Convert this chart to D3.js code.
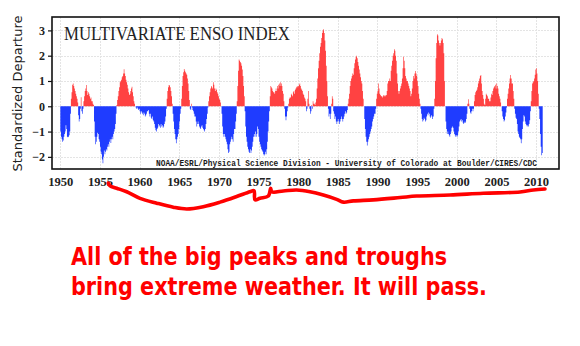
<!DOCTYPE html>
<html>
<head>
<meta charset="utf-8">
<script src="https://cdn.jsdelivr.net/npm/d3@7"></script>
<style>
  html, body { margin: 0; padding: 0; background: #fff; }
  svg { display: block; }
</style>
</head>
<body>
<svg id="chart" width="580" height="346"></svg>
<script>
// ---- Data: monthly MEI values, January 1950 onward ----
const mei1950s = [
  -1.0,-1.2,-1.3,-1.4,-1.35,-1.2,-1.1,-1.0,-0.75,-0.9,-1.2,-1.22,
  -1.2,-1.15,-1.0,-0.3,0.3,0.55,0.85,0.9,0.8,0.7,0.6,0.5,
  0.4,0.3,0.15,-0.35,-0.6,-0.5,-0.1,0.36,-0.2,-0.3,-0.1,0.2,
  0.4,0.6,0.7,0.84,0.6,0.45,0.55,0.5,0.4,0.3,0.35,0.2,
  0.2,0.1,0.05,-0.6,-1.2,-1.5,-1.4,-1.2,-1.05,-1.1,-1.3,-1.4,
  -1.6,-1.8,-1.9,-2.1,-2.25,-2.0,-1.75,-1.9,-1.8,-1.7,-1.75,-1.6,
  -1.5,-1.6,-1.4,-1.3,-1.45,-1.3,-1.2,-1.3,-1.1,-1.0,-0.9,-0.7,
  -0.3,0.05,0.25,0.4,0.6,0.75,0.95,1.0,1.05,1.15,1.2,1.3,
  1.46,1.3,1.2,1.05,0.95,0.85,0.7,0.55,0.45,0.5,0.6,0.7,
  0.77,0.55,0.4,0.2,0.1,0.0,-0.05,-0.1,-0.05,-0.1,-0.15,-0.1
];
const mei1960s = [
  -0.2,-0.3,-0.2,-0.25,-0.3,-0.35,-0.25,-0.3,-0.4,-0.35,-0.3,-0.2,
  -0.2,-0.15,-0.3,-0.4,-0.3,-0.45,-0.5,-0.4,-0.55,-0.6,-0.7,-0.85,
  -0.95,-1.0,-0.9,-0.85,-0.7,-0.8,-0.75,-0.85,-0.7,-0.8,-0.75,-0.85,
  -0.8,-0.7,-0.6,-0.4,-0.1,0.3,0.6,0.75,0.84,0.82,0.75,0.6,
  0.4,0.1,-0.3,-0.6,-0.9,-1.1,-1.3,-1.46,-1.3,-1.2,-1.1,-0.9,
  -0.6,-0.3,-0.1,0.3,0.8,1.2,1.35,1.47,1.4,1.35,1.3,1.25,
  1.1,0.9,0.6,0.25,-0.1,-0.15,0.1,-0.05,-0.15,-0.2,-0.3,-0.4,
  -0.4,-0.6,-0.8,-0.7,-0.6,-0.7,-0.8,-0.85,-0.9,-0.8,-0.75,-0.85,
  -0.9,-0.95,-1.0,-0.9,-0.7,-0.5,-0.3,-0.05,0.2,0.4,0.55,0.7,
  0.8,0.75,0.7,0.95,0.85,0.7,0.6,0.7,0.65,0.55,0.5,0.4
];
const mei1970s = [
  0.3,0.25,0.15,0.0,-0.3,-0.8,-1.1,-1.2,-1.1,-1.2,-1.3,-1.4,
  -1.5,-1.7,-1.85,-1.8,-1.5,-1.4,-1.3,-1.2,-1.3,-1.4,-1.1,-0.9,
  -0.9,-0.6,-0.3,0.2,0.8,1.4,1.85,1.8,1.75,1.7,1.6,1.45,
  1.2,0.8,0.4,-0.2,-0.8,-1.2,-1.4,-1.6,-1.7,-1.8,-1.85,-1.7,
  -1.85,-1.75,-1.6,-1.4,-1.2,-1.1,-1.2,-1.0,-1.2,-1.1,-0.8,-0.9,
  -1.2,-1.4,-1.5,-1.6,-1.7,-1.75,-1.8,-1.9,-1.95,-1.9,-1.8,-1.9,
  -1.7,-1.4,-1.0,-0.6,-0.2,0.4,0.8,0.75,0.7,0.6,0.55,0.55,
  0.5,0.6,0.7,0.6,0.8,0.7,0.85,0.9,0.8,0.95,0.9,0.8,
  0.6,0.5,0.2,-0.1,-0.4,-0.55,-0.4,-0.2,-0.05,0.1,0.3,0.35,
  0.35,0.5,0.45,0.4,0.55,0.6,0.5,0.65,0.7,0.75,0.8,0.75
];
const mei1980s = [
  0.8,0.85,0.9,0.8,0.7,0.65,0.6,0.5,0.45,0.35,0.3,0.2,
  -0.2,-0.1,0.3,0.6,0.1,-0.1,-0.3,-0.2,0.05,-0.1,0.2,0.1,
  0.1,0.05,0.15,0.3,0.7,1.1,1.5,1.8,2.1,2.35,2.5,2.7,
  2.9,3.0,3.05,2.9,2.6,2.2,1.6,1.0,0.4,-0.1,-0.4,-0.3,
  -0.5,-0.3,0.1,0.4,0.3,-0.2,-0.3,-0.5,-0.4,-0.6,-0.7,-0.6,
  -0.5,-0.6,-0.7,-0.6,-0.5,-0.4,-0.5,-0.6,-0.5,-0.4,-0.3,-0.2,
  -0.3,-0.25,-0.15,0.1,0.3,0.5,0.8,1.0,1.1,1.2,1.3,1.25,
  1.5,1.7,1.85,1.95,2.0,1.9,1.75,1.6,1.45,1.3,1.15,1.0,
  0.9,0.6,0.3,0.0,-0.5,-0.9,-1.2,-1.4,-1.55,-1.4,-1.3,-1.2,
  -1.1,-1.0,-0.9,-0.8,-0.6,-0.5,-0.4,-0.3,-0.3,-0.1,0.3,0.5
];
const mei1990s = [
  0.6,0.9,0.7,0.5,0.45,0.4,0.4,0.35,0.4,0.45,0.4,0.45,
  0.4,0.45,0.6,0.9,1.0,1.0,1.1,1.0,1.4,1.6,1.8,2.0,
  2.1,2.25,2.2,2.0,1.8,1.3,0.9,0.6,0.5,0.6,0.7,0.8,
  0.9,1.1,1.5,1.96,1.8,1.5,1.2,1.1,1.0,1.0,0.9,0.8,
  0.7,0.6,0.4,0.5,0.7,1.0,1.2,1.1,1.3,1.39,1.3,1.2,
  1.0,0.8,0.5,0.3,0.1,-0.1,-0.3,-0.5,-0.6,-0.55,-0.45,-0.5,
  -0.6,-0.55,-0.4,-0.3,-0.35,-0.25,-0.3,-0.4,-0.45,-0.35,-0.4,-0.5,
  -0.4,-0.1,0.3,1.0,1.9,2.5,2.85,2.8,2.6,2.5,2.4,2.5,
  2.6,2.7,2.65,2.5,2.1,1.0,0.0,-0.6,-0.9,-1.1,-1.0,-1.1,
  -1.15,-1.2,-1.1,-1.0,-0.85,-0.8,-0.85,-1.0,-1.1,-1.15,-1.2,-1.15
];
const mei2000s = [
  -1.2,-1.15,-1.0,-0.8,-0.6,-0.55,-0.5,-0.6,-0.55,-0.65,-0.7,-0.65,
  -0.6,-0.65,-0.5,-0.3,0.1,0.28,0.1,-0.1,-0.25,-0.3,-0.2,-0.1,
  -0.2,-0.1,0.2,0.45,0.55,0.6,0.65,0.75,0.9,1.0,1.1,1.2,
  1.24,0.9,0.6,0.45,0.3,0.1,0.05,0.3,0.5,0.45,0.4,0.3,
  0.3,0.2,0.2,0.35,0.5,0.45,0.6,0.7,0.75,0.8,0.85,0.7,
  0.9,0.8,0.7,0.5,0.4,0.3,0.15,0.0,-0.2,-0.4,-0.5,-0.6,
  -0.55,-0.4,-0.25,-0.05,0.3,0.5,0.7,0.9,1.1,1.24,1.1,0.9,
  0.9,0.6,0.3,-0.1,-0.3,-0.45,-0.5,-0.7,-1.0,-1.1,-1.2,-1.25,
  -1.3,-1.46,-1.3,-0.9,-0.6,-0.35,-0.4,-0.6,-0.7,-0.75,-0.8,-0.75,
  -0.8,-0.7,-0.55,-0.2,0.2,0.6,0.9,0.95,1.0,1.1,1.25,1.45
];
const mei2010 = [1.5,1.3,1.0,0.5,-0.1,-0.5,-1.1,-1.6,-1.94,-1.85];

const startYear = 1950;
const xTicks = [1950,1955,1960,1965,1970,1975,1980,1985,1990,1995,2000,2005,2010];
const yTicks = [-2,-1,0,1,2,3];

const titleText = "MULTIVARIATE ENSO INDEX";
const creditText = "NOAA/ESRL/Physical Science Division - University of Colorado at Boulder/CIRES/CDC";
const yAxisTitle = "Standardized Departure";
const noteLines = ["All of the big peaks and troughs", "bring extreme weather. It will pass."];

// hand-drawn red underline, in (year, index) units
const scribble = [
  [1956.05,-3.04],[1956.27,-3.15],[1957.11,-3.24],[1958.37,-3.38],[1960.05,-3.64],
  [1962.16,-3.83],[1964.25,-3.99],[1965.94,-4.06],[1968.03,-3.97],[1970.14,-3.79],
  [1972.24,-3.57],[1973.92,-3.38],[1974.43,-3.34],[1974.55,-3.70],[1975.18,-3.64],
  [1976.23,-3.55],[1976.53,-3.24],[1976.66,-3.38],[1978.12,-3.35],[1979.81,-3.31],
  [1981.49,-3.38],[1983.17,-3.51],[1984.85,-3.68],[1985.69,-3.79],[1986.95,-3.74],
  [1989.47,-3.70],[1992.84,-3.61],[1994.94,-3.55],[1999.14,-3.51],[2003.34,-3.44],
  [2007.98,-3.39],[2009.65,-3.31],[2011.12,-3.27]
];

// ---- Build ----
const values = [].concat(mei1950s, mei1960s, mei1970s, mei1980s, mei1990s, mei2000s, mei2010);
const series = values.map((v, i) => ({ t: startYear + i / 12, v }));
series.push({ t: startYear + values.length / 12, v: values[values.length - 1] });

const svg = d3.select("#chart");
const pL = 52, pR = 559, pT = 17, pB = 169;

const x = d3.scaleLinear().domain([1948.95, 2012.89]).range([pL, pR]);
const y = d3.scaleLinear().domain([-2.48, 3.53]).range([pB, pT]);

svg.append("rect").attr("width", 580).attr("height", 346).attr("fill", "#fff");

// grid
const grid = svg.append("g").attr("stroke", "#e4e4e4").attr("stroke-width", 1).attr("stroke-dasharray", "2,1");
grid.selectAll("line.v").data(xTicks).join("line").attr("class", "v")
  .attr("x1", d => Math.round(x(d)) + 0.5).attr("x2", d => Math.round(x(d)) + 0.5)
  .attr("y1", pT).attr("y2", pB);
grid.selectAll("line.h").data(yTicks).join("line").attr("class", "h")
  .attr("y1", d => Math.round(y(d)) + 0.5).attr("y2", d => Math.round(y(d)) + 0.5)
  .attr("x1", pL).attr("x2", pR);

// areas
const posArea = d3.area().curve(d3.curveStepAfter)
  .x(d => x(d.t)).y0(y(0)).y1(d => y(Math.max(0, d.v)));
const negArea = d3.area().curve(d3.curveStepAfter)
  .x(d => x(d.t)).y0(y(0)).y1(d => y(Math.min(0, d.v)));
svg.append("path").datum(series).attr("d", posArea).attr("fill", "#ff4242");
svg.append("path").datum(series).attr("d", negArea).attr("fill", "#1f3cff");

// frame
svg.append("rect").attr("x", pL).attr("y", pT).attr("width", pR - pL).attr("height", pB - pT)
  .attr("fill", "none").attr("stroke", "#111").attr("stroke-width", 1.6);

// title
svg.append("text").attr("x", 64).attr("y", 39.5)
  .attr("font-family", "'Liberation Serif', 'DejaVu Serif', serif").attr("font-size", 18)
  .attr("textLength", 226).attr("lengthAdjust", "spacingAndGlyphs")
  .attr("fill", "#222").text(titleText);

// credit
svg.append("text").attr("x", 156).attr("y", 165.5)
  .attr("font-family", "'Liberation Mono', 'DejaVu Sans Mono', monospace").attr("font-size", 8.6)
  .attr("font-weight", "bold")
  .attr("textLength", 381).attr("lengthAdjust", "spacingAndGlyphs")
  .attr("fill", "#1a1a1a").text(creditText);

// axes
const yAxis = d3.axisLeft(y).tickValues(yTicks).tickSize(4).tickPadding(3)
  .tickFormat(d => d < 0 ? "\u2212" + Math.abs(d) : String(d));
const gy = svg.append("g").attr("transform", `translate(${pL},0)`).call(yAxis);
gy.select(".domain").remove();
gy.selectAll("line").attr("stroke", "#111").attr("stroke-width", 1.2);
gy.selectAll("text").attr("font-family", "'Liberation Serif', serif").attr("font-size", 12)
  .attr("font-weight", "bold").attr("fill", "#222");

const xAxis = d3.axisBottom(x).tickValues(xTicks).tickSize(0).tickPadding(8).tickFormat(d => String(d));
const gx = svg.append("g").attr("transform", `translate(0,${pB})`).call(xAxis);
gx.select(".domain").remove();
gx.selectAll("text").attr("font-family", "'Liberation Serif', serif").attr("font-size", 12.5)
  .attr("font-weight", "bold").attr("fill", "#222");

// y title
svg.append("text").attr("transform", "translate(22,93.5) rotate(-90)")
  .attr("text-anchor", "middle")
  .attr("font-family", "'DejaVu Sans', sans-serif").attr("font-size", 13)
  .attr("textLength", 156).attr("lengthAdjust", "spacingAndGlyphs")
  .attr("fill", "#222").text(yAxisTitle);

// red scribble
const line = d3.line().x(d => x(d[0])).y(d => y(d[1])).curve(d3.curveCatmullRom.alpha(0.5));
svg.append("path").datum(scribble).attr("d", line)
  .attr("fill", "none").attr("stroke", "#ff0000").attr("stroke-width", 3.6)
  .attr("stroke-linecap", "round").attr("stroke-linejoin", "round");

// red note
const noteWidths = [376, 416];
const noteY = [265, 295];
noteLines.forEach((t, i) => {
  svg.append("text").attr("x", 71).attr("y", noteY[i])
    .attr("font-family", "'DejaVu Sans Condensed', 'DejaVu Sans', sans-serif")
    .attr("font-stretch", "condensed")
    .attr("font-weight", "bold").attr("font-size", 25)
    .attr("textLength", noteWidths[i]).attr("lengthAdjust", "spacingAndGlyphs")
    .attr("fill", "#ff0000").text(t);
});
</script>
</body>
</html>
